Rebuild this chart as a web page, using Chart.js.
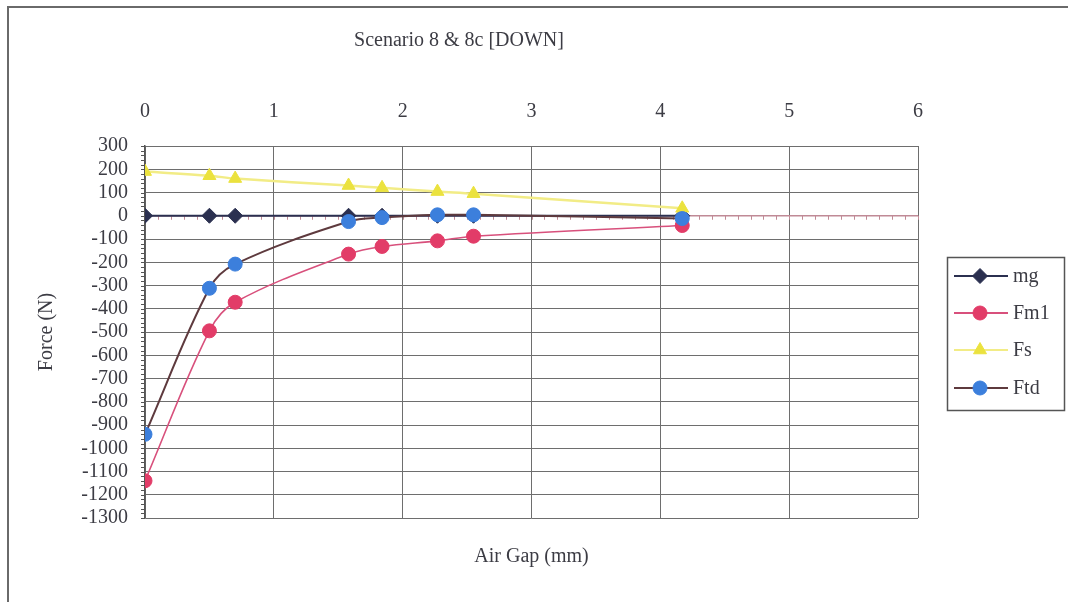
<!DOCTYPE html>
<html>
<head>
<meta charset="utf-8">
<style>
  html, body { margin: 0; padding: 0; background: #ffffff; }
  #wrap { width: 1068px; height: 602px; position: relative; }
</style>
<script src="https://cdn.jsdelivr.net/npm/chart.js@4.4.1/dist/chart.umd.min.js"></script>
</head>
<body>
<div id="wrap"><canvas id="chart" width="1068" height="602"></canvas></div>
<script>
// Air gap positions (mm) where forces were measured
const airGap = [0, 0.5, 0.7, 1.58, 1.84, 2.27, 2.55, 4.17];

// Force components (N)
const mg  = [0, 0, 0, 0, 0, 0, 0, 0];
const fm1 = [-1140, -495, -372, -165, -132, -108, -88, -42];
const fs  = [190, 172, 160, 130, 120, 104, 95, 32];
const ftd = [-940, -312, -208, -25, -8, 4, 4, -12];

const xTicks = [0, 1, 2, 3, 4, 5, 6];
const yTicks = [300, 200, 100, 0, -100, -200, -300, -400, -500, -600, -700,
                -800, -900, -1000, -1100, -1200, -1300];
const seriesNames = ['mg', 'Fm1', 'Fs', 'Ftd'];

const SERIF = '"Liberation Serif", "DejaVu Serif", serif';
const INK = '#3c3c44';
const FS = 20;

// layout of the plotting box inside the 1068x602 canvas
const TITLE_PAD = 29;
const TITLE_LH = FS * 1.2;
const PLOT_TOP = 146, PLOT_BOTTOM = 518, PLOT_LEFT = 145, PLOT_RIGHT = 918;
const CANVAS_W = 1068, CANVAS_H = 602;

function pts(ys) { return airGap.map((x, i) => ({ x: x, y: ys[i] })); }

const datasets = [
  { label: seriesNames[0], data: pts(mg), borderColor: '#2b3050', backgroundColor: '#2b3050',
    pointStyle: 'rectRot', pointRadius: 7.5, borderWidth: 2, order: 4 },
  { label: seriesNames[1], data: pts(fm1), borderColor: '#d8507c', backgroundColor: '#e23c68',
    pointStyle: 'circle', pointRadius: 7, borderWidth: 1.6, order: 3 },
  { label: seriesNames[2], data: pts(fs), borderColor: '#f2ec86', backgroundColor: '#ebe23e',
    pointStyle: 'triangle', pointRadius: 7.5, borderWidth: 2.5, order: 2 },
  { label: seriesNames[3], data: pts(ftd), borderColor: '#5e3a3e', backgroundColor: '#3c7fdc',
    pointStyle: 'circle', pointRadius: 7, borderWidth: 2, order: 1 }
].map(d => Object.assign(d, {
  showLine: true, tension: 0.35, pointBorderColor: d.backgroundColor, pointBorderWidth: 1
}));

// Outer frame, zero axis with minor ticks, and the boxed legend
const decorations = {
  id: 'decorations',
  beforeDatasetsDraw(chart) {
    const { ctx, chartArea: a, scales: { x, y } } = chart;
    const y0 = y.getPixelForValue(0);
    ctx.save();
    // zero axis line
    ctx.strokeStyle = '#c08a96';
    ctx.lineWidth = 1.5;
    ctx.beginPath(); ctx.moveTo(a.left, y0); ctx.lineTo(a.right, y0); ctx.stroke();
    // minor ticks on the zero axis every 0.1 mm
    ctx.lineWidth = 1;
    for (let i = 0; i <= 60; i++) {
      const px = Math.round(x.getPixelForValue(i / 10)) + 0.5;
      ctx.beginPath(); ctx.moveTo(px, y0); ctx.lineTo(px, y0 + 4); ctx.stroke();
    }
    // minor ticks on the force axis every 20 N
    ctx.strokeStyle = '#555';
    for (let v = -1300; v <= 300; v += 20) {
      const py = Math.round(y.getPixelForValue(v)) + 0.5;
      ctx.beginPath(); ctx.moveTo(a.left - 4, py); ctx.lineTo(a.left, py); ctx.stroke();
    }
    ctx.restore();
  },
  afterDraw(chart) {
    const { ctx } = chart;
    ctx.save();
    // frame
    ctx.strokeStyle = '#6a6a6a';
    ctx.lineWidth = 2;
    ctx.beginPath(); ctx.moveTo(8, CANVAS_H); ctx.lineTo(8, 7); ctx.lineTo(CANVAS_W, 7); ctx.stroke();
    // legend box
    ctx.lineWidth = 1.5;
    ctx.strokeStyle = '#555';
    ctx.strokeRect(947.5, 257.5, 117, 153);
    const rows = [276, 313, 350, 388];
    chart.data.datasets.forEach((d, i) => {
      const yy = rows[i];
      ctx.strokeStyle = d.borderColor;
      ctx.lineWidth = 2;
      ctx.beginPath(); ctx.moveTo(954, yy); ctx.lineTo(1008, yy); ctx.stroke();
      ctx.fillStyle = d.backgroundColor;
      ctx.strokeStyle = d.backgroundColor;
      ctx.lineWidth = 1;
      Chart.helpers.drawPoint(ctx, {
        pointStyle: d.pointStyle, radius: d.pointRadius, rotation: 0, borderWidth: 1
      }, 980, yy);
      ctx.fillStyle = INK;
      ctx.font = FS + 'px ' + SERIF;
      ctx.textAlign = 'left';
      ctx.textBaseline = 'middle';
      ctx.fillText(d.label, 1013, yy + 1);
    });
    ctx.restore();
  }
};

new Chart(document.getElementById('chart'), {
  type: 'scatter',
  data: { datasets },
  plugins: [decorations],
  options: {
    responsive: false,
    animation: false,
    layout: { padding: { left: 0, right: CANVAS_W - PLOT_RIGHT, top: 0, bottom: 0 } },
    plugins: {
      legend: { display: false },
      tooltip: { enabled: false },
      title: {
        display: true,
        text: 'Scenario 8 & 8c [DOWN]',
        color: INK,
        font: { family: SERIF, size: FS, weight: 'normal', lineHeight: 1.2 },
        padding: { top: TITLE_PAD, bottom: 0 }
      }
    },
    scales: {
      x: {
        type: 'linear',
        position: 'top',
        min: 0, max: 6,
        afterBuildTicks(s) { s.ticks = xTicks.map(v => ({ value: v })); },
        afterFit(s) { s.height = PLOT_TOP - TITLE_PAD - TITLE_LH; },
        grid: { color: '#6e6e6e', lineWidth: 1, drawTicks: false },
        border: { color: '#6e6e6e', width: 1 },
        ticks: { color: INK, padding: 22, autoSkip: false, maxRotation: 0,
                 callback: v => String(v), font: { family: SERIF, size: FS } }
      },
      x2: {
        type: 'linear',
        position: 'bottom',
        min: 0, max: 6,
        afterFit(s) { s.height = CANVAS_H - PLOT_BOTTOM; },
        grid: { display: false, drawTicks: false },
        border: { display: false },
        ticks: { display: false },
        title: {
          display: true, text: 'Air Gap (mm)', color: INK,
          font: { family: SERIF, size: FS, lineHeight: 1.2 }, padding: { top: 0, bottom: 33 }
        }
      },
      y: {
        type: 'linear',
        min: -1300, max: 300,
        afterBuildTicks(s) { s.ticks = yTicks.map(v => ({ value: v })); },
        afterFit(s) { s.width = PLOT_LEFT; },
        grid: { color: '#6e6e6e', lineWidth: 1, drawTicks: false },
        border: { color: '#555', width: 1.5 },
        ticks: { color: INK, padding: 17, autoSkip: false,
                 callback: v => String(v), font: { family: SERIF, size: FS } },
        title: {
          display: true, text: 'Force (N)', color: INK,
          font: { family: SERIF, size: FS, lineHeight: 1.2 }, padding: { top: 35, bottom: 0 }
        }
      }
    }
  }
});
</script>
</body>
</html>
